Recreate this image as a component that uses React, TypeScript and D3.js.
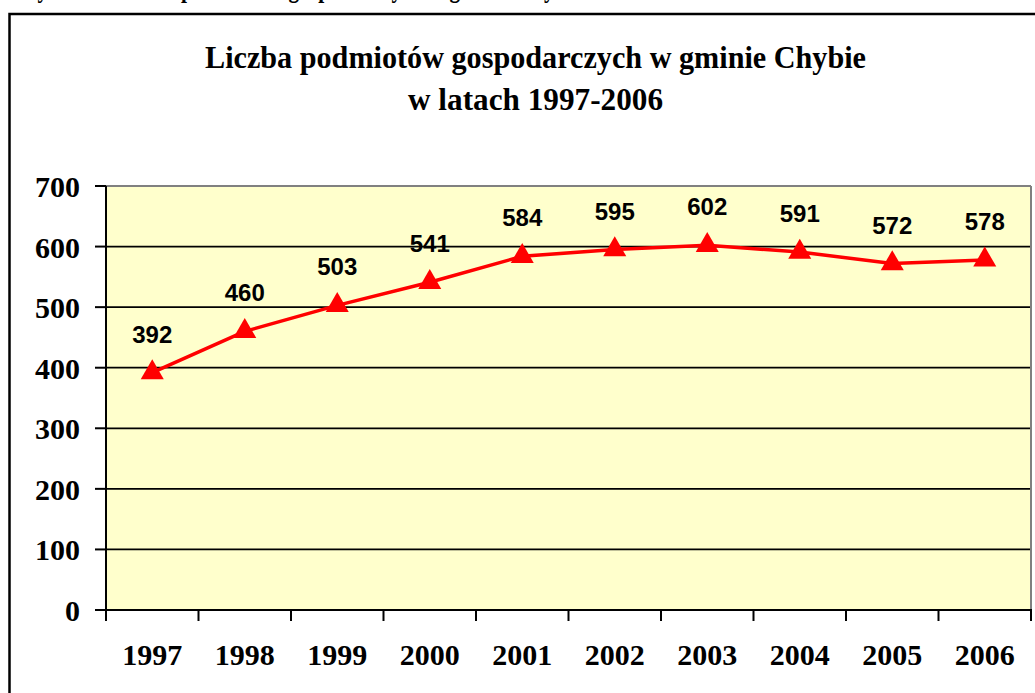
import React from "react";
import * as d3 from "d3";

const years = ["1997", "1998", "1999", "2000", "2001", "2002", "2003", "2004", "2005", "2006"];
const counts = [392, 460, 503, 541, 584, 595, 602, 591, 572, 578];
const yTicks = [0, 100, 200, 300, 400, 500, 600, 700];
const titleLines = ["Liczba podmiotów gospodarczych w gminie  Chybie", "w latach 1997-2006"];
const captionText = "Wykres 1. Liczba podmiotów gospodarczych w gminie Chybie w latach 1997-2006";

export default function App() {
  const W = 1035, H = 693;
  const left = 106, right = 1031, top = 186, bottom = 610;
  const x = d3.scaleBand<string>().domain(years).range([left, right]);
  const y = d3.scaleLinear().domain([0, 700]).range([bottom, top]);
  const cx = (yr: string) => (x(yr) as number) + x.bandwidth() / 2;
  const line = d3.line<number>().x((_, i) => cx(years[i])).y((d) => y(d));
  const tri = d3.symbol().type(d3.symbolTriangle).size(230)();
  const serif = "'Liberation Serif', 'Times New Roman', serif";
  const sans = "'Liberation Sans', Arial, sans-serif";

  return (
    <svg width={W} height={H} style={{ position: "absolute", left: 0, top: 0, background: "#fff" }}>
      <rect x={0} y={0} width={W} height={H} fill="#fff" />
      {/* caption cut off at top */}
      <text x={17} y={-3} fontFamily={serif} fontWeight="bold" fontSize={28} textLength={745} lengthAdjust="spacingAndGlyphs">
        {captionText}
      </text>
      {/* outer chart frame */}
      <rect x={9.5} y={14} width={W + 20} height={H + 20} fill="#fff" stroke="#000" strokeWidth={2.5} />
      {/* title */}
      <text x={535.5} y={68} textAnchor="middle" fontFamily={serif} fontWeight="bold" fontSize={31}
        textLength={661} lengthAdjust="spacingAndGlyphs">{titleLines[0]}</text>
      <text x={535.5} y={110} textAnchor="middle" fontFamily={serif} fontWeight="bold" fontSize={31}
        textLength={255} lengthAdjust="spacingAndGlyphs">{titleLines[1]}</text>
      {/* plot area */}
      <rect x={left} y={top} width={right - left} height={bottom - top} fill="#FFFFCC" />
      {yTicks.filter((t) => t > 0 && t < 700).map((t) => (
        <line key={t} x1={left} x2={right} y1={y(t)} y2={y(t)} stroke="#000" strokeWidth={1.8} />
      ))}
      <line x1={left} x2={right} y1={top} y2={top} stroke="#808080" strokeWidth={2} />
      <line x1={right} x2={right} y1={top} y2={bottom} stroke="#808080" strokeWidth={2} />
      {/* axes */}
      <line x1={left} x2={left} y1={top} y2={bottom + 1} stroke="#000" strokeWidth={2} />
      <line x1={left - 1} x2={right + 1} y1={bottom} y2={bottom} stroke="#000" strokeWidth={2} />
      {yTicks.map((t) => (
        <g key={t}>
          <line x1={left - 11} x2={left} y1={y(t)} y2={y(t)} stroke="#000" strokeWidth={2} />
          <text x={80} y={y(t) + 11} textAnchor="end" fontFamily={serif} fontWeight="bold" fontSize={30}>{t}</text>
        </g>
      ))}
      {years.map((yr, i) => (
        <line key={"t" + yr} x1={x(yr) as number} x2={x(yr) as number} y1={bottom} y2={bottom + 11} stroke="#000" strokeWidth={2} />
      ))}
      <line x1={right} x2={right} y1={bottom} y2={bottom + 11} stroke="#000" strokeWidth={2} />
      {years.map((yr) => (
        <text key={"l" + yr} x={cx(yr)} y={665} textAnchor="middle" fontFamily={serif} fontWeight="bold" fontSize={30}>{yr}</text>
      ))}
      {/* series */}
      <path d={line(counts) || ""} fill="none" stroke="#FF0000" strokeWidth={3.5} strokeLinejoin="round" />
      {counts.map((v, i) => (
        <path key={"m" + i} d={tri || ""} transform={`translate(${cx(years[i])},${y(v)})`} fill="#FF0000" />
      ))}
      {counts.map((v, i) => (
        <text key={"v" + i} x={cx(years[i])} y={y(v) - 30} textAnchor="middle" fontFamily={sans} fontWeight="bold" fontSize={24} fill="#000">{v}</text>
      ))}
    </svg>
  );
}
